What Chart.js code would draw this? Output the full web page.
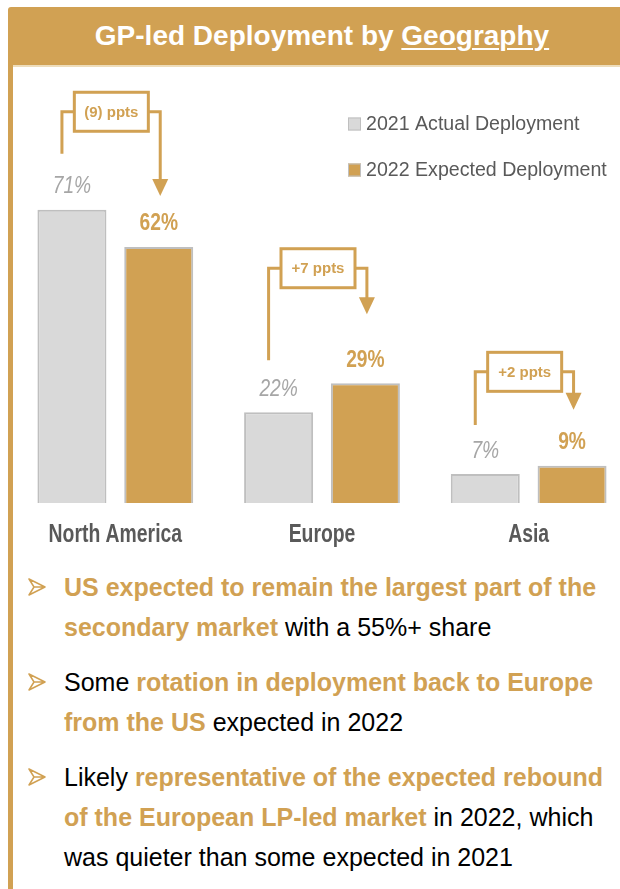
<!DOCTYPE html>
<html>
<head>
<meta charset="utf-8">
<script src="https://cdn.jsdelivr.net/npm/chart.js@4.4.1/dist/chart.umd.min.js"></script>
<style>
  html, body { margin: 0; padding: 0; width: 620px; height: 889px; overflow: hidden; background: #fff; }
  body { position: relative; font-family: "Liberation Sans", Arial, sans-serif; }
  #header {
    position: absolute; left: 8px; top: 7px; width: 628px; height: 58px;
    background: #D1A153; border-top-left-radius: 3px;
    color: #fff; font-weight: bold; font-size: 28px; line-height: 58px; text-align: center;
  }
  #header u { text-decoration-thickness: 2px; text-underline-offset: 3px; }
  #rule { position: absolute; left: 13px; top: 65px; width: 620px; height: 2px; background: #EEDDBB; }
  #side { position: absolute; left: 8px; top: 65px; width: 5px; height: 830px; background: #D1A153; }
  #chart-wrap { position: absolute; left: 12px; top: 70px; width: 620px; height: 494px; }
  #notes { position: absolute; left: 0; top: 567px; margin: 0; padding: 0; list-style: none; }
  #notes li {
    position: relative; padding-left: 64px; margin-bottom: 15px;
    font-size: 25px; line-height: 40px; color: #000; white-space: nowrap;
  }
  #notes li svg { position: absolute; left: 28px; top: 11px; }
  #notes b { color: #D1A153; }
</style>
</head>
<body>
<div id="header">GP-led Deployment by <u>Geography</u></div>
<div id="rule"></div>
<div id="side"></div>
<div id="chart-wrap"><canvas id="geo-chart"></canvas></div>

<ul id="notes">
  <li><svg width="18" height="18" viewBox="0 0 18 18"><path d="M1 1 L17 9 L1 17 L6 9 Z M6 9 L17 9" fill="none" stroke="#D1A153" stroke-width="1.5" stroke-linejoin="round"/></svg><b>US expected to remain the largest part of the</b><br><b>secondary market</b> with a 55%+ share</li>
  <li><svg width="18" height="18" viewBox="0 0 18 18"><path d="M1 1 L17 9 L1 17 L6 9 Z M6 9 L17 9" fill="none" stroke="#D1A153" stroke-width="1.5" stroke-linejoin="round"/></svg>Some <b>rotation in deployment back to Europe</b><br><b>from the US</b> expected in 2022</li>
  <li><svg width="18" height="18" viewBox="0 0 18 18"><path d="M1 1 L17 9 L1 17 L6 9 Z M6 9 L17 9" fill="none" stroke="#D1A153" stroke-width="1.5" stroke-linejoin="round"/></svg>Likely <b>representative of the expected rebound</b><br><b>of the European LP-led market</b> in 2022, which<br>was quieter than some expected in 2021</li>
</ul>

<script>
// --- Data ---
const regions = ['North America', 'Europe', 'Asia'];
const actual2021 = [71, 22, 7];
const expected2022 = [62, 29, 9];
const seriesNames = ['2021 Actual Deployment', '2022 Expected Deployment'];

// --- Colours & fonts ---
const GOLD = '#D1A153';
const GREY_FILL = '#D9D9D9';
const GREY_EDGE = '#BFBFBF';
const FONT = '"Liberation Sans", Arial, sans-serif';

// narrow text: squeeze the glyphs horizontally around x
function narrowText(ctx, text, x, y, squeeze) {
  ctx.save();
  ctx.translate(x, y);
  ctx.scale(squeeze, 1);
  ctx.fillText(text, 0, 0);
  ctx.restore();
}

// value labels, category names, change brackets and the legend
const deployOverlay = {
  id: 'deployOverlay',
  afterDatasetsDraw(chart, args, opts) {
    const ctx = chart.ctx;
    const m0 = chart.getDatasetMeta(0).data;
    const m1 = chart.getDatasetMeta(1).data;
    const xScale = chart.scales.x;
    ctx.save();

    // values above bars
    ctx.textAlign = 'center';
    ctx.textBaseline = 'alphabetic';
    m0.forEach((bar, i) => {
      ctx.font = 'italic 24px ' + FONT;
      ctx.fillStyle = '#A6A6A6';
      narrowText(ctx, actual2021[i] + '%', bar.x, bar.y - 16.5, 0.8);
    });
    m1.forEach((bar, i) => {
      ctx.font = 'bold 24px ' + FONT;
      ctx.fillStyle = GOLD;
      narrowText(ctx, expected2022[i] + '%', bar.x, bar.y - 16.5, 0.8);
    });

    // region names under the axis
    ctx.font = 'bold 25px ' + FONT;
    ctx.fillStyle = '#595959';
    chart.data.labels.forEach((lab, i) => {
      narrowText(ctx, lab, xScale.getPixelForTick(i), chart.chartArea.bottom + 39, 0.775);
    });

    // change brackets
    ctx.strokeStyle = GOLD;
    ctx.fillStyle = GOLD;
    ctx.lineWidth = 3;
    regions.forEach((r, i) => {
      const a = m0[i], b = m1[i];
      const level = Math.min(a.y, b.y) - opts.rise[i];
      const stemX = a.x - 10;
      const tipX = b.x + 1.5;
      const tipY = b.y - opts.tipGap[i];
      const boxW = 74, boxH = 39;
      const boxX = (a.x + b.x) / 2 - 4 - boxW / 2;

      ctx.beginPath();
      ctx.moveTo(stemX, a.y - opts.stemGap[i]);
      ctx.lineTo(stemX, level);
      ctx.lineTo(boxX, level);
      ctx.moveTo(boxX + boxW, level);
      ctx.lineTo(tipX, level);
      ctx.lineTo(tipX, tipY - 15);
      ctx.stroke();

      ctx.beginPath();
      ctx.moveTo(tipX - 8, tipY - 17);
      ctx.lineTo(tipX + 8, tipY - 17);
      ctx.lineTo(tipX, tipY);
      ctx.closePath();
      ctx.fill();

      ctx.strokeRect(boxX, level - boxH / 2, boxW, boxH);

      const diff = expected2022[i] - actual2021[i];
      const txt = diff < 0 ? '(' + (-diff) + ') ppts' : '+' + diff + ' ppts';
      ctx.font = 'bold 15px ' + FONT;
      ctx.textBaseline = 'middle';
      ctx.fillText(txt, boxX + boxW / 2, level + 1);
    });

    // legend
    ctx.textAlign = 'left';
    ctx.textBaseline = 'middle';
    ctx.font = '19.6px ' + FONT;
    chart.data.datasets.forEach((ds, i) => {
      const y = 54 + i * 46;
      const x = chart.chartArea.left + 336;
      ctx.fillStyle = ds.backgroundColor;
      ctx.fillRect(x, y - 6.5, 13, 13);
      ctx.lineWidth = 1;
      ctx.strokeStyle = GREY_EDGE;
      ctx.strokeRect(x + 0.5, y - 6, 12, 12);
      ctx.fillStyle = '#595959';
      ctx.fillText(ds.label, x + 18, y + 1);
    });
    ctx.restore();
  }
};

const chart = new Chart(document.getElementById('geo-chart'), {
  type: 'bar',
  data: {
    labels: regions,
    datasets: [
      { label: seriesNames[0], data: actual2021, backgroundColor: GREY_FILL, borderColor: GREY_EDGE, borderWidth: 2 },
      { label: seriesNames[1], data: expected2022, backgroundColor: GOLD, borderColor: GREY_EDGE, borderWidth: 2 }
    ]
  },
  options: {
    responsive: true,
    maintainAspectRatio: false,
    animation: false,
    datasets: { bar: { categoryPercentage: 0.84, barPercentage: 0.795 } },
    layout: { padding: { top: 20, left: 0, right: 0, bottom: 61 } },
    scales: {
      x: {
        grid: { display: false, drawTicks: false },
        border: { display: false },
        ticks: { display: false }
      },
      y: { display: false, min: 0, max: 100 }
    },
    plugins: {
      legend: { display: false },
      tooltip: { enabled: false },
      deployOverlay: {
        rise: [98, 115, 94],
        stemGap: [56, 52, 49],
        tipGap: [51, 69, 56]
      }
    }
  },
  plugins: [deployOverlay]
});
</script>
</body>
</html>
